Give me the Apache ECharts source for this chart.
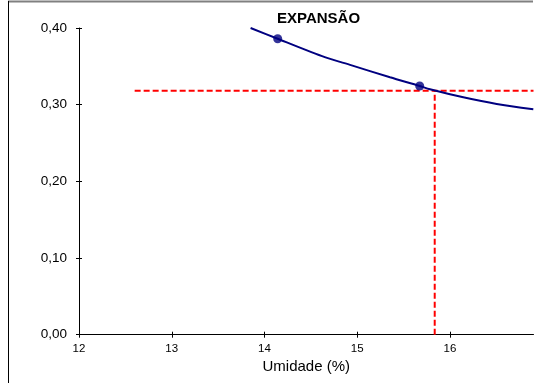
<!DOCTYPE html>
<html>
<head>
<meta charset="utf-8">
<script src="https://cdn.jsdelivr.net/npm/echarts@6/dist/echarts.min.js"></script>
<style>
html,body{margin:0;padding:0;background:#fff;}
#c{width:539px;height:383px;}
</style>
</head>
<body>
<div id="c"></div>
<script>
// Data
const curveX = [13.85, 14.142, 14.65, 14.940, 15.353, 15.673, 15.784, 16.143, 16.503, 16.898];
const curveY = [0.400, 0.3860, 0.3620, 0.3513, 0.3357, 0.3244, 0.3201, 0.3096, 0.3009, 0.2940];
const pointX = [14.142, 15.673];
const pointY = [0.3860, 0.3244];
const hLineX = [12.6, 16.9];
const refY = 0.318;
const refX = 15.835;
const xTicks = [12, 13, 14, 15, 16];

const FONT = '"Liberation Sans", Arial, sans-serif';
const chart = echarts.init(document.getElementById('c'), null, {renderer: 'canvas'});

const zip = (a, b) => a.map((v, i) => [v, b[i]]);

const xBase = {
  type: 'value', min: 12, max: 16.9, interval: 1,
  splitLine: {show: false}
};
const yBase = {
  type: 'value', min: 0, max: 0.4, interval: 0.1,
  splitLine: {show: false}
};

chart.setOption({
  animation: false,
  backgroundColor: '#ffffff',
  title: {
    text: 'EXPANSÃO', left: 277, top: 11, padding: 0,
    textStyle: {fontFamily: FONT, fontSize: 15, fontWeight: 'bold', color: '#000'}
  },
  grid: {left: 79, right: 5.5, top: 28, bottom: 48.3},
  xAxis: [
    Object.assign({}, xBase, {
      name: 'Umidade (%)', nameLocation: 'middle', nameGap: 22,
      nameTextStyle: {fontFamily: FONT, fontSize: 15, color: '#000'},
      axisLine: {lineStyle: {color: '#000', width: 1}},
      axisTick: {show: true, length: 3, inside: false, customValues: xTicks, lineStyle: {color: '#000'}},
      axisLabel: {customValues: xTicks, fontFamily: FONT, fontSize: 11.5, color: '#000', margin: 8}
    }),
    Object.assign({}, xBase, {
      position: 'bottom',
      axisLine: {show: false},
      axisTick: {show: true, length: 3, inside: true, customValues: xTicks, lineStyle: {color: '#000'}},
      axisLabel: {show: false}
    })
  ],
  yAxis: [
    Object.assign({}, yBase, {
      axisLine: {show: true, lineStyle: {color: '#000', width: 1}},
      axisTick: {show: true, length: 3, inside: false, lineStyle: {color: '#000'}},
      axisLabel: {
        fontFamily: FONT, fontSize: 13.5, color: '#000', margin: 12,
        formatter: v => v.toFixed(2).replace('.', ',')
      }
    }),
    Object.assign({}, yBase, {
      position: 'left',
      axisLine: {show: false},
      axisTick: {show: true, length: 3, inside: true, lineStyle: {color: '#000'}},
      axisLabel: {show: false}
    })
  ],
  series: [
    {
      type: 'line', data: zip(curveX, curveY), smooth: 0.3, symbol: 'none',
      lineStyle: {color: '#000080', width: 2}, clip: true, z: 3
    },
    {
      type: 'line', data: zip(hLineX, [refY, refY]), symbol: 'none',
      lineStyle: {color: '#ff0000', width: 2, type: [6, 3]}, z: 2
    },
    {
      type: 'line', data: [[refX, 0], [refX, refY]], symbol: 'none',
      lineStyle: {color: '#ff0000', width: 2, type: [6, 3]}, z: 2
    },
    {
      type: 'scatter', data: zip(pointX, pointY), symbol: 'circle', symbolSize: 9,
      itemStyle: {color: '#000080'}, z: 4
    }
  ],
  graphic: [
    {type: 'line', shape: {x1: 8, y1: 1.5, x2: 533, y2: 1.5}, style: {stroke: '#808080', lineWidth: 2}},
    {type: 'line', shape: {x1: 8.5, y1: 1, x2: 8.5, y2: 383}, style: {stroke: '#000', lineWidth: 1}}
  ]
});
</script>
</body>
</html>
